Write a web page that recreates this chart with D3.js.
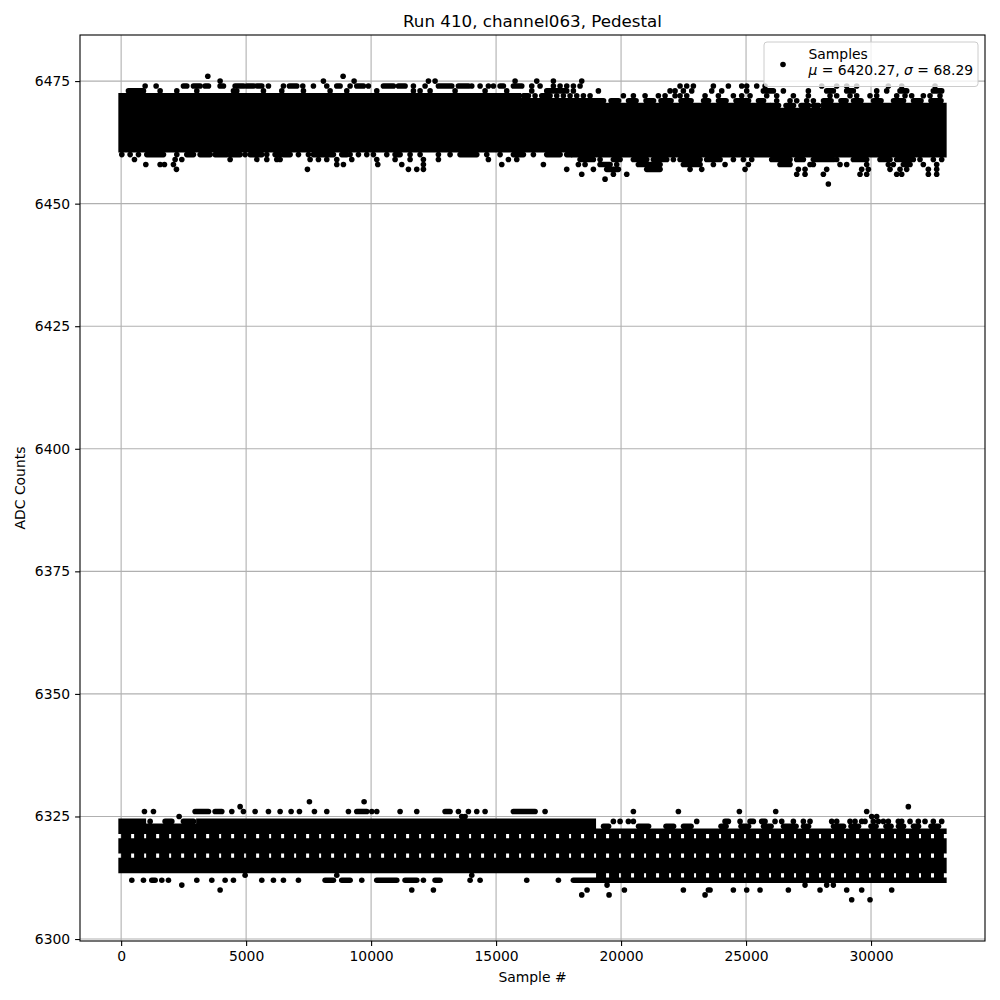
<!DOCTYPE html>
<html>
<head>
<meta charset="utf-8">
<script src="https://cdn.jsdelivr.net/npm/d3@7"></script>
<style>
  body { margin: 0; background: #fff; }
  svg { display: block; font-family: "DejaVu Sans", sans-serif; }
</style>
</head>
<body>
<div id="chart"></div>
<script>
// ---- data ----
// bins of 1000 samples; per bin the densely filled ADC levels of each band
const binStarts = [0, 1000, 2000, 3000, 4000, 5000, 6000, 7000, 8000, 9000, 10000,
  11000, 12000, 13000, 14000, 15000, 16000, 17000, 18000, 19000, 20000,
  21000, 22000, 23000, 24000, 25000, 26000, 27000, 28000, 29000, 30000, 31000, 32000]
const lastSample = 32914

const upperHi = [6472, 6472, 6472, 6472, 6472, 6472, 6472, 6472, 6472, 6472, 6472,
  6472, 6472, 6472, 6472, 6472, 6471, 6471, 6471, 6470, 6470,
  6470, 6470, 6470, 6470, 6470, 6469, 6469, 6470, 6470, 6470, 6470, 6470]
const upperLo = [6461, 6461, 6461, 6461, 6461, 6461, 6461, 6461, 6461, 6461, 6461,
  6461, 6461, 6461, 6461, 6461, 6461, 6461, 6460, 6460, 6460,
  6460, 6460, 6460, 6460, 6460, 6460, 6460, 6460, 6460, 6460, 6460, 6460]
const lowerHi = [6324, 6323, 6323, 6324, 6324, 6324, 6324, 6324, 6324, 6324, 6324,
  6324, 6324, 6324, 6324, 6324, 6324, 6324, 6324, 6322, 6322,
  6322, 6322, 6322, 6322, 6322, 6322, 6322, 6322, 6322, 6322, 6322, 6322]
const lowerLo = [6314, 6314, 6314, 6314, 6314, 6314, 6314, 6314, 6314, 6314, 6314,
  6314, 6314, 6314, 6314, 6314, 6314, 6314, 6314, 6312, 6312,
  6312, 6312, 6312, 6312, 6312, 6312, 6312, 6312, 6312, 6312, 6312, 6312]
// levels inside the lower band that are only partly filled
const lowerPartial = [6313, 6317, 6321]

// scattered samples outside the dense cores: [level, [sample | [from, to], ...]]
const upperOuter = [
  [6476, [3467, 8880]],
  [6475, [3960, 8093, 9320, 12293, 12560, 15760, 16627, 17293, 18427]],
  [6474, [960, 1400, [2493, 2627], [2893, 3160], [3360, 3493], [3960, 4093], [4560, 4893], [5027, 5293],
    [5427, 5627], 5893, 6493, [6733, 7027], 7267, 7693, 8227, [8627, 8760], 9160, [9427, 9693], 9893,
    [10493, 10893], [11093, 11360], 11693, 12160, [12693, 13227], [13493, 13893], 14027, 14360, 14693,
    14893, [15160, 15293], [15693, 16027], 16427, 16760, 17293, 17560, 17827, 18093, 18360, 22360,
    22627, 22893, 23693, 24293, 24827, 25027, 25427, 25760, 28027, 28627, 29027, 29427, 30693, 31227, 32560]],
  [6473, [[293, 893], 1560, 2227, 3027, 4493, 4627, 5693, 6427, 7293, 8360, 9027, 10227, 11693, 11960,
    12360, 13360, 14560, 15427, 16427, [17027, 17827], 18093, 19093, 21960, 22160, 22493, 22827, 23627,
    24027, 25027, [25693, 26093], 26493, 27493, [28227, 28493], [29027, 29293], 30227, 30627,
    [31160, 31427], [32493, 32827]]],
  [6472, [[16093, 16293], 16560, [16827, 17160], 17427, 17693, 17960, 18227, 18493, 18760, 20093, 20493,
    20960, 21493, 21760, 22160, 22360, 22627, 23360, 23893, 24493, 24827, 25160, 25827, 26227, 26893,
    27493, 28360, 28627, 29160, 29427, 29960, 30227, 31027, 31360, 31627, 32093, 32360, 32760]],
  [6471, [[19000, 19300], [19600, 19900], [20300, 20600], [21000, 21300], [21600, 22000], [22400, 22800],
    [23300, 23500], [23900, 24200], [24600, 25100], [25500, 25700], 26227, 26760, 27027, 27427, 27693,
    [28100, 28400], [28800, 29000], [29300, 29600], [30100, 30400], [30900, 31300], [31700, 32000],
    [32400, 32800]]],
  [6470, [[26000, 26300], [26600, 26900], [27200, 27500], [27700, 27900]]],
  [6460, [27, 360, 693, [1027, 1693], 2227, [2627, 2893], [3160, 3560], [3760, 4227], [4360, 4760], 4960,
    [5160, 5627], 5827, [6160, 6360], [6493, 6760], 7093, 7493, [7693, 8493], [8827, 9027], 9160, 9493,
    9827, 10093, 10627, [10960, 11160], 11560, 11960, 12693, 13160, [13560, 14227], 14627, 15160,
    [15693, 16093], 16493, [17027, 17560], [17827, 18000]]],
  [6459, [533, 2160, 2427, 4360, 5427, 5827, 6227, 6360, 7560, 7893, 8227, 8627, 9227, 10227, 10960,
    11560, 12093, 12693, 14693, 15493, 15827, [18360, 18893], 19160, [19693, 19960], [20493, 21027],
    [21293, 21827], 22093, [22360, 23160], [23427, 23960], 24493, 24893, 25227, [26027, 26760],
    [27027, 27293], [27693, 28493], 28627, [29293, 29827], [30360, 30760], [31027, 31693], 31960, 32493, 32827]],
  [6458, [987, 1560, 1733, 2093, 8627, 8893, 10267, 11227, 12093, 15227, 16893, 18293, 18560,
    [19160, 19560], 19827, [20693, 21560], [22493, 23160], 23693, 24160, 25093, [26360, 26760], 27560,
    27693, 28760, 29027, 29827, 30693, 30893, [31293, 31560], 32093, 32627]],
  [6457, [2213, 7453, 11493, 11827, 12093, 17827, 18893, [19427, 19893], [21027, 21560], 22760, 23227,
    24960, 27093, 27360, 28227, 29627, 29893, 30760, 31160, 31427, 32293, 32627]],
  [6456, [18427, 19693, 20227, 27027, 27360, 28093, 29560, 29827, 31027, 31227, 32293, 32627]],
  [6455, [19360]],
  [6454, [28293]]
]

const lowerOuter = [
  [6328, [7533, 9720]],
  [6327, [4760, 31493]],
  [6326, [933, 1293, [2960, 3493], [3760, 4027], 4427, 4893, 5360, 5893, 6360, 6800, 7133, 7733, 8227,
    9093, [9427, 9827], 10027, 10227, 11160, 11827, [12960, 13160], 13493, 13893, 14227, 14560,
    [15693, 16560], 16960, 20493, 22293, 24733, 26187, 29827]],
  [6325, [2320, 13627, 13760, 30027, 30227]],
  [6324, [1160, [1760, 2027], [2493, 2893], 19693, 19960, 20293, 20493, 23027, [24160, 24293], 24760,
    [25160, 25293], [25627, 25760], 26160, 26427, 26893, 27293, 27560, 28427, 28627, 29160, 29360, 29627,
    29760, 30093, 30293, 30493, 30693, 31093, 31227, 31560, 31893, 32160, 32493, 32827]],
  [6323, [[19300, 19500], [20700, 21100], [21800, 22100], [22500, 22800], [24000, 24200], [24800, 25100],
    [25700, 26000], [26500, 27000], [27300, 27500], [28500, 28900], [29200, 29500], [30000, 30200],
    [30600, 30800], [31100, 31300], [31700, 31900], [32400, 32700]]],
  [6313, [4960, 8627, 14027]],
  [6312, [427, 893, [1227, 1360], 1627, 1893, 3027, 3627, 4160, 4493, 5627, 6093, 6493, 7093,
    [8160, 8493], [8827, 9160], 9627, [10227, 11027], [11360, 11827], 12093, [12560, 12760], 13960,
    14360, 16227, 17493, [18093, 19000]]],
  [6311, [2427, 19440, 27360, 28227, 28493]],
  [6310, [3960, 11627, 12493, 18640, 20133, 22493, [23493, 23560], 24493, 25027, 25560, 26693, 27960,
    29027, 29627, 30827]],
  [6309, [18427, 19520, 23360]],
  [6308, [29227, 29960]]
]

const xTicks = [0, 5000, 10000, 15000, 20000, 25000, 30000]
const yTicks = [6300, 6325, 6350, 6375, 6400, 6425, 6450, 6475]
const title = 'Run 410, channel063, Pedestal'
const legendLines = ['Samples', 'μ = 6420.27, σ = 68.29']

// ---- layout ----
const width = 1000
const height = 1000
const margin = {top: 35, right: 15, bottom: 59, left: 80}
const r = 2.8            // marker radius
const fs = 13.9          // 10pt at 100 dpi

const lastBin = binStarts.length - 1
const binEnd = i => i < lastBin ? binStarts[i + 1] : lastSample

const flatten = list => list.flatMap(([lvl, items]) =>
  items.map(it => Array.isArray(it) ? [lvl, it[0], it[1]] : [lvl, it]))
const upperPts = flatten(upperOuter)
const lowerPts = flatten(lowerOuter)

const allLevels = upperHi.concat(upperLo, lowerHi, lowerLo,
  upperPts.map(d => d[0]), lowerPts.map(d => d[0]))
const yMin = d3.min(allLevels)
const yMax = d3.max(allLevels)
const yPad = (yMax - yMin) * 0.05
const xPad = lastSample * 0.05

const x = d3.scaleLinear()
  .domain([-xPad, lastSample + xPad])
  .range([margin.left, width - margin.right])
const y = d3.scaleLinear()
  .domain([yMin - yPad, yMax + yPad])
  .range([height - margin.bottom, margin.top])

const svg = d3.select('#chart').append('svg')
  .attr('width', width)
  .attr('height', height)

svg.append('rect').attr('width', width).attr('height', height).attr('fill', '#fff')

// grid
const grid = svg.append('g')
  .attr('stroke', '#b0b0b0')
  .attr('stroke-width', 1.1)
grid.selectAll('.gx').data(xTicks).enter().append('line')
  .attr('x1', d => x(d)).attr('x2', d => x(d))
  .attr('y1', margin.top).attr('y2', height - margin.bottom)
grid.selectAll('.gy').data(yTicks).enter().append('line')
  .attr('x1', margin.left).attr('x2', width - margin.right)
  .attr('y1', d => y(d)).attr('y2', d => y(d))

svg.append('clipPath').attr('id', 'clip')
  .append('rect')
  .attr('x', margin.left).attr('y', margin.top)
  .attr('width', width - margin.left - margin.right)
  .attr('height', height - margin.top - margin.bottom)

const plot = svg.append('g').attr('clip-path', 'url(#clip)')

// dense cores: one path per band so touching levels merge without seams
function drawCore(hi, lo, partial) {
  const p = d3.path()
  binStarts.forEach((s, i) => {
    const x0 = x(s) - (i === 0 ? r : 0)
    const x1 = x(binEnd(i)) + (i === lastBin ? r : 0)
    let a = lo[i]
    for (let v = lo[i]; v <= hi[i] + 1; v++) {
      if (v > hi[i] || partial.includes(v)) {
        if (v - 1 >= a) p.rect(x0, y(v - 1) - r, x1 - x0, y(a) - y(v - 1) + 2 * r)
        a = v + 1
      }
    }
  })
  plot.append('path').attr('d', p.toString()).attr('fill', '#000')

  // partly filled levels inside the core
  const rows = []
  binStarts.forEach((s, i) => {
    partial.filter(v => v > lo[i] && v < hi[i]).forEach(v => rows.push([v, s, binEnd(i)]))
  })
  plot.selectAll(null).data(rows).enter().append('line')
    .attr('x1', d => x(d[1])).attr('x2', d => x(d[2]))
    .attr('y1', d => y(d[0])).attr('y2', d => y(d[0]))
    .attr('stroke', '#000')
    .attr('stroke-width', 2 * r)
    .attr('stroke-dasharray', '10 3')
}

function drawOuter(pts) {
  plot.selectAll(null).data(pts.filter(d => d.length === 3)).enter().append('line')
    .attr('x1', d => x(d[1])).attr('x2', d => x(d[2]))
    .attr('y1', d => y(d[0])).attr('y2', d => y(d[0]))
    .attr('stroke', '#000')
    .attr('stroke-width', 2 * r)
    .attr('stroke-linecap', 'round')
  plot.selectAll(null).data(pts.filter(d => d.length === 2)).enter().append('circle')
    .attr('cx', d => x(d[1]))
    .attr('cy', d => y(d[0]))
    .attr('r', r)
    .attr('fill', '#000')
}

drawCore(upperHi, upperLo, [])
drawCore(lowerHi, lowerLo, lowerPartial)
drawOuter(upperPts)
drawOuter(lowerPts)

// frame
svg.append('rect')
  .attr('x', margin.left).attr('y', margin.top)
  .attr('width', width - margin.left - margin.right)
  .attr('height', height - margin.top - margin.bottom)
  .attr('fill', 'none')
  .attr('stroke', '#000')
  .attr('stroke-width', 1.1)

// axes
const xAxis = d3.axisBottom(x).tickValues(xTicks).tickFormat(d3.format('d'))
  .tickSize(4.9).tickSizeOuter(0).tickPadding(4.9)
const yAxis = d3.axisLeft(y).tickValues(yTicks).tickFormat(d3.format('d'))
  .tickSize(4.9).tickSizeOuter(0).tickPadding(4.9)

const gx = svg.append('g')
  .attr('transform', `translate(0,${height - margin.bottom})`)
  .call(xAxis)
const gy = svg.append('g')
  .attr('transform', `translate(${margin.left},0)`)
  .call(yAxis)

svg.selectAll('.domain').remove()
svg.selectAll('.tick line').attr('stroke', '#000').attr('stroke-width', 1.1)
svg.selectAll('.tick text')
  .attr('fill', '#000')
  .style('font-family', '"DejaVu Sans", sans-serif')
  .style('font-size', fs + 'px')

// texts
svg.append('text')
  .attr('x', (margin.left + width - margin.right) / 2)
  .attr('y', 27)
  .attr('text-anchor', 'middle')
  .style('font-size', '16.7px')
  .text(title)

svg.append('text')
  .attr('x', (margin.left + width - margin.right) / 2)
  .attr('y', 982)
  .attr('text-anchor', 'middle')
  .style('font-size', fs + 'px')
  .text('Sample #')

svg.append('text')
  .attr('transform', `translate(25,${(margin.top + height - margin.bottom) / 2}) rotate(-90)`)
  .attr('text-anchor', 'middle')
  .style('font-size', fs + 'px')
  .text('ADC Counts')

// legend
const legend = svg.append('g')
legend.append('rect')
  .attr('x', 764).attr('y', 42)
  .attr('width', 214).attr('height', 44.5)
  .attr('rx', 3)
  .attr('fill', '#fff').attr('fill-opacity', 0.8)
  .attr('stroke', '#cccccc').attr('stroke-width', 1)
legend.append('circle')
  .attr('cx', 783).attr('cy', 64.5).attr('r', r).attr('fill', '#000')
legend.append('text')
  .attr('x', 808.5).attr('y', 59)
  .style('font-size', fs + 'px')
  .text(legendLines[0])
const l2 = legend.append('text')
  .attr('x', 808.5).attr('y', 75)
  .style('font-size', fs + 'px')
legendLines[1].split(/([μσ])/).filter(s => s.length).forEach(part => {
  l2.append('tspan')
    .style('font-style', part === 'μ' || part === 'σ' ? 'italic' : 'normal')
    .text(part)
})
</script>
</body>
</html>
